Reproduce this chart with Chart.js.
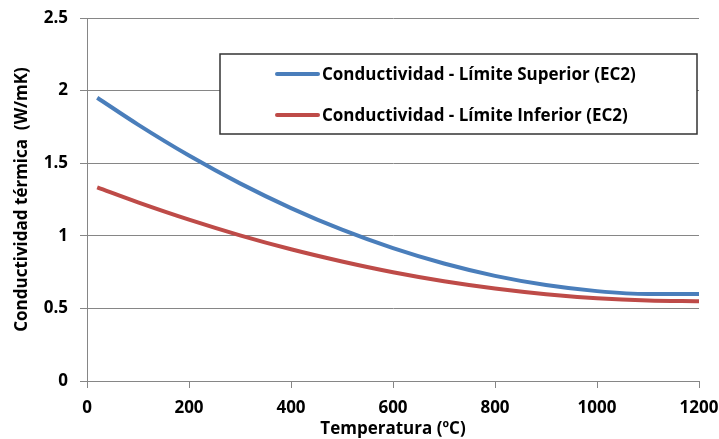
<!DOCTYPE html>
<html>
<head>
<meta charset="utf-8">
<script src="https://cdn.jsdelivr.net/npm/chart.js@4"></script>
<style>
  html, body { margin: 0; padding: 0; background: #fff; }
  #wrap { width: 719px; height: 439px; }
</style>
</head>
<body>
<div id="wrap"><canvas id="chart" width="719" height="439"></canvas></div>
<script>
// Temperatura (ºC) and conductivity limits (W/mK)
const temps = [20, 100, 200, 300, 400, 500, 600, 700, 800, 900, 1000, 1100, 1200];
const upperLimit = [1.951, 1.766, 1.553, 1.361, 1.191, 1.042, 0.915, 0.809, 0.724, 0.661, 0.619, 0.599, 0.600];
const lowerLimit = [1.333, 1.230, 1.111, 1.003, 0.907, 0.823, 0.749, 0.687, 0.637, 0.598, 0.570, 0.554, 0.549];
const seriesLabels = [
  "Conductividad - Límite Superior (EC2)",
  "Conductividad - Límite Inferior (EC2)"
];
const xTicks = [0, 200, 400, 600, 800, 1000, 1200];
const yTicks = [0, 0.5, 1, 1.5, 2, 2.5];

const FONT = "'Open Sans', sans-serif";
const AXIS_GREY = "#868686";

function toPoints(values) {
  return temps.map((t, i) => ({ x: t, y: values[i] }));
}

// Boxed legend drawn inside the plot area
const boxLegend = {
  id: "boxLegend",
  afterDraw(chart) {
    const ctx = chart.ctx;
    const left = 220, top = 54, right = 697, bottom = 134;
    ctx.save();
    ctx.fillStyle = "#fff";
    ctx.fillRect(left, top, right - left, bottom - top);
    ctx.strokeStyle = "#333";
    ctx.lineWidth = 1.5;
    ctx.strokeRect(left, top, right - left, bottom - top);

    const rows = [74, 115];
    chart.data.datasets.forEach((ds, i) => {
      const y = rows[i];
      ctx.strokeStyle = ds.borderColor;
      ctx.lineWidth = 4;
      ctx.lineCap = "round";
      ctx.beginPath();
      ctx.moveTo(277, y);
      ctx.lineTo(318, y);
      ctx.stroke();
      ctx.fillStyle = "#000";
      ctx.font = "bold 17px " + FONT;
      ctx.textBaseline = "middle";
      ctx.fillText(ds.label, 322, y + 1);
    });
    ctx.restore();
  }
};

new Chart(document.getElementById("chart"), {
  type: "line",
  data: {
    datasets: [
      {
        label: seriesLabels[0],
        data: toPoints(upperLimit),
        borderColor: "#4A7EBB",
        borderWidth: 4,
        pointRadius: 0,
        cubicInterpolationMode: "monotone",
        fill: false
      },
      {
        label: seriesLabels[1],
        data: toPoints(lowerLimit),
        borderColor: "#BE4B48",
        borderWidth: 4,
        pointRadius: 0,
        cubicInterpolationMode: "monotone",
        fill: false
      }
    ]
  },
  options: {
    responsive: false,
    animation: false,
    layout: { padding: { top: 18, right: 20, left: 0, bottom: 0 } },
    plugins: {
      legend: { display: false },
      tooltip: { enabled: false }
    },
    scales: {
      x: {
        type: "linear",
        min: 0,
        max: 1200,
        afterBuildTicks: (scale) => { scale.ticks = xTicks.map(v => ({ value: v })); },
        afterFit: (scale) => {
          scale.height = 58;
          scale.paddingLeft = 0;
          scale.paddingRight = 0;
        },
        grid: { drawOnChartArea: false, color: AXIS_GREY, tickLength: 7 },
        border: { color: AXIS_GREY, width: 1 },
        ticks: {
          color: "#000",
          padding: 10,
          maxRotation: 0,
          callback: (v) => String(v),
          font: { family: FONT, size: 17, weight: "bold" }
        },
        title: {
          display: true,
          text: "Temperatura (ºC)",
          color: "#000",
          padding: { top: -4, bottom: 0 },
          font: { family: FONT, size: 17, weight: "bold" }
        }
      },
      y: {
        min: 0,
        max: 2.5,
        afterBuildTicks: (scale) => { scale.ticks = yTicks.map(v => ({ value: v })); },
        afterFit: (scale) => {
          scale.width = 87;
          scale.paddingTop = 0;
          scale.paddingBottom = 0;
        },
        grid: { color: AXIS_GREY, tickLength: 7 },
        border: { color: AXIS_GREY, width: 1 },
        ticks: {
          color: "#000",
          padding: 12,
          callback: (v) => String(v),
          font: { family: FONT, size: 17, weight: "bold" }
        },
        title: {
          display: true,
          text: "Conductividad térmica  (W/mK)",
          color: "#000",
          padding: { top: 12, bottom: 0 },
          font: { family: FONT, size: 17, weight: "bold" }
        }
      }
    }
  },
  plugins: [boxLegend]
});
</script>
</body>
</html>
